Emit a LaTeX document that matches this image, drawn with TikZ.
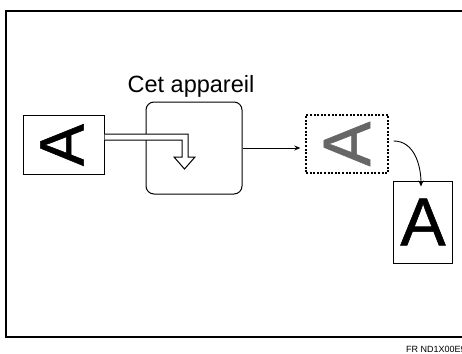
\documentclass[tikz,border=0pt]{standalone}
\usepackage{fontspec}
\setmainfont{Liberation Sans}
\newfontfamily\letterfont[FakeBold=0.8]{Liberation Sans}
\usetikzlibrary{arrows.meta}
\begin{document}
\begin{tikzpicture}[x=1pt,y=-1pt,
  frameline/.style={line width=1.5pt},
  docbox/.style={draw, line width=1pt, inner sep=0pt},
  bigletter/.style={inner sep=0pt, font=\letterfont\fontsize{#1}{#1}\selectfont},
  conn/.style={line width=0.9pt, -{Stealth[length=6pt,width=5pt]}}
]
\useasboundingbox (0,0) rectangle (462,353);
% frame
\draw[frameline] (462,11) -- (6,11) -- (6,337) -- (462,337);
% input document
\node[docbox, minimum width=81pt, minimum height=59pt] (docA) at (63.5,144.5) {};
\node[bigletter=63, rotate=90] (letA) at (62,145) {A};
% machine
\node[docbox, rounded corners=8pt, minimum width=96pt, minimum height=92pt] (machine) at (194,148) {};
\node[font=\fontsize{23.5}{24}\selectfont, anchor=base, inner sep=0pt] (label) at (191,92) {Cet appareil};
% hollow arrow
\draw[line width=1pt, fill=white, line join=miter]
  (docA.east |- 0,134) -- (188,134) -- (188,157) -- (195,157) -- (184.5,169)
  -- (174,157) -- (182,157) -- (182,140) -- (docA.east |- 0,140);
% intermediate (dotted) image
\node[draw, dash pattern=on 2pt off 1.6pt, line width=1.4pt, inner sep=0pt,
      minimum width=82pt, minimum height=58pt] (outA) at (347,144) {};
\node[bigletter=67, rotate=90, text=black!60] (letB) at (347,144) {A};
% final document
\node[docbox, minimum width=59pt, minimum height=82pt] (finalA) at (422.5,222) {};
\node[bigletter=68] (letC) at (423,222) {A};
% connectors
\coordinate (lineend) at ([xshift=-5pt]machine.east -| outA.west);
\draw[conn] (machine.east) -- (lineend);
\coordinate (curvestart) at ([xshift=5pt,yshift=3pt]outA.east);
\coordinate (curveend) at ([xshift=-1.5pt,yshift=-6pt]finalA.north);
\draw[conn] (curvestart) to[out=0,in=90] (curveend);
% caption
\node[anchor=base west, inner sep=0pt, font=\fontsize{9}{9}\selectfont] (cap) at (406,352) {FR ND1X00E9};
\end{tikzpicture}
\end{document}
